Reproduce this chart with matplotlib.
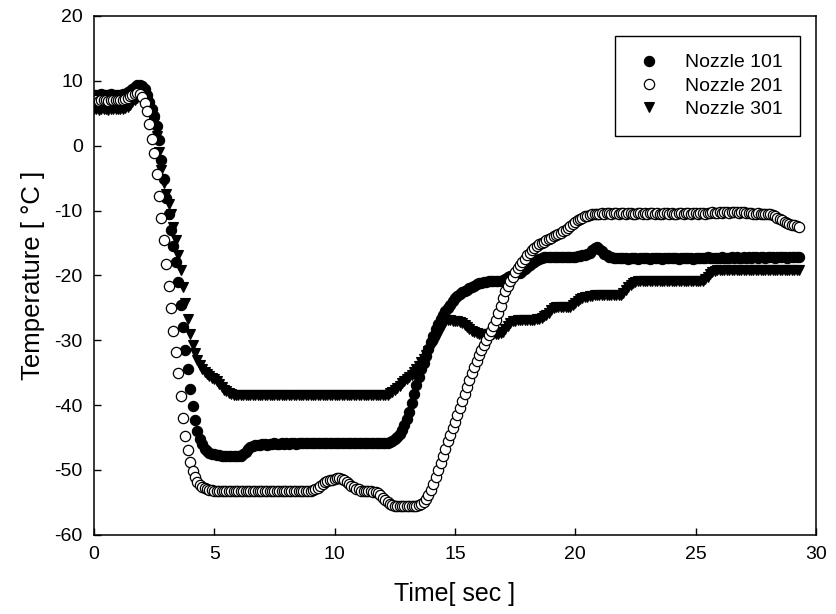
import numpy as np
import matplotlib
matplotlib.use("Agg")
import matplotlib.pyplot as plt

plt.rcParams["font.family"] = ["Liberation Sans", "DejaVu Sans"]
plt.rcParams["axes.unicode_minus"] = False

# sampling interval of the logger (s)
dt = 0.1

# Nozzle 101, one row per second
n101 = [
    7.8, 7.8, 7.8, 7.9, 7.8, 7.8, 7.8, 7.9, 7.8, 7.8,
    7.8, 7.8, 7.9, 8.0, 8.2, 8.5, 8.8, 9.1, 9.3, 9.4,
    9.2, 8.7, 7.8, 6.7, 5.6, 4.5, 3.0, 0.8, -2.2, -5.2,
    -8.0, -10.5, -13.0, -15.5, -18.0, -21.0, -24.5, -28.0, -31.5, -34.5,
    -37.5, -40.2, -42.3, -44.0, -45.2, -46.0, -46.7, -47.1, -47.4, -47.5,
    -47.6, -47.7, -47.7, -47.8, -47.8, -47.9, -47.9, -47.9, -47.8, -47.9,
    -47.9, -47.8, -47.6, -47.2, -46.8, -46.5, -46.3, -46.2, -46.1, -46.1,
    -46.0, -46.0, -46.1, -46.0, -46.0, -45.9, -46.0, -46.0, -45.9, -46.0,
    -45.9, -46.0, -45.9, -45.9, -46.0, -45.9, -45.9, -45.8, -45.9, -45.9,
    -45.9, -45.8, -45.9, -45.9, -45.8, -45.9, -45.8, -45.9, -45.9, -45.8,
    -45.9, -45.8, -45.9, -45.8, -45.8, -45.9, -45.8, -45.8, -45.9, -45.8,
    -45.8, -45.9, -45.8, -45.8, -45.9, -45.8, -45.8, -45.9, -45.8, -45.8,
    -45.8, -45.8, -45.8, -45.7, -45.5, -45.2, -44.9, -44.5, -43.9, -43.1,
    -42.2, -41.0, -39.7, -38.3, -36.9, -35.6, -34.5, -33.5, -32.5, -31.4,
    -30.3, -29.3, -28.3, -27.5, -26.8, -26.1, -25.5, -25.0, -24.5, -24.0,
    -23.5, -23.2, -22.9, -22.6, -22.4, -22.2, -22.0, -21.8, -21.6, -21.4,
    -21.2, -21.1, -21.0, -21.0, -20.9, -20.9, -20.9, -20.9, -20.9, -20.8,
    -20.7, -20.5, -20.3, -20.1, -20.0, -19.8, -19.7, -19.6, -19.3, -19.0,
    -18.7, -18.4, -18.1, -17.9, -17.7, -17.5, -17.3, -17.2, -17.1, -17.1,
    -17.1, -17.2, -17.1, -17.1, -17.2, -17.1, -17.1, -17.1, -17.2, -17.1,
    -17.1, -17.0, -17.0, -16.9, -16.8, -16.7, -16.5, -16.1, -15.8, -15.7,
    -15.9, -16.3, -16.7, -16.9, -17.1, -17.2, -17.3, -17.3, -17.3, -17.3,
    -17.3, -17.3, -17.4, -17.3, -17.3, -17.3, -17.4, -17.3, -17.3, -17.3,
    -17.3, -17.4, -17.3, -17.3, -17.3, -17.3, -17.4, -17.3, -17.3, -17.3,
    -17.3, -17.3, -17.3, -17.4, -17.3, -17.3, -17.3, -17.3, -17.3, -17.4,
    -17.3, -17.3, -17.3, -17.3, -17.3, -17.2, -17.3, -17.3, -17.3, -17.3,
    -17.3, -17.2, -17.3, -17.3, -17.3, -17.2, -17.3, -17.2, -17.3, -17.3,
    -17.2, -17.3, -17.2, -17.3, -17.2, -17.2, -17.3, -17.2, -17.2, -17.3,
    -17.2, -17.2, -17.2, -17.3, -17.2, -17.2, -17.2, -17.2, -17.3, -17.2,
    -17.2, -17.2, -17.2, -17.2,
]

# Nozzle 201
n201 = [
    7.0, 7.0, 6.9, 7.0, 7.0, 7.0, 6.9, 7.0, 7.0, 7.0,
    7.0, 7.0, 7.1, 7.2, 7.4, 7.6, 7.8, 8.0, 8.1, 8.0,
    7.5, 6.6, 5.3, 3.4, 1.0, -1.2, -4.4, -7.7, -11.1, -14.6,
    -18.2, -21.6, -25.0, -28.5, -31.8, -35.1, -38.6, -42.0, -44.7, -46.9,
    -48.7, -50.1, -51.1, -51.8, -52.3, -52.6, -52.8, -53.0, -53.1, -53.1,
    -53.2, -53.2, -53.3, -53.3, -53.2, -53.3, -53.3, -53.2, -53.3, -53.3,
    -53.3, -53.2, -53.3, -53.3, -53.3, -53.2, -53.3, -53.3, -53.2, -53.3,
    -53.3, -53.2, -53.3, -53.2, -53.3, -53.3, -53.2, -53.3, -53.2, -53.2,
    -53.3, -53.2, -53.2, -53.3, -53.2, -53.2, -53.3, -53.2, -53.2, -53.2,
    -53.2, -53.1, -53.0, -52.8, -52.5, -52.2, -51.9, -51.7, -51.6, -51.5,
    -51.4, -51.3, -51.3, -51.4, -51.6, -51.9, -52.2, -52.5, -52.7, -52.9,
    -53.0, -53.2, -53.3, -53.3, -53.3, -53.3, -53.4, -53.4, -53.6, -53.9,
    -54.3, -54.7, -55.0, -55.2, -55.4, -55.5, -55.5, -55.5, -55.5, -55.5,
    -55.5, -55.5, -55.5, -55.5, -55.5, -55.4, -55.3, -55.0, -54.5, -53.9,
    -53.1, -52.2, -51.1, -50.0, -48.9, -47.8, -46.7, -45.6, -44.6, -43.6,
    -42.6, -41.6, -40.5, -39.4, -38.3, -37.2, -36.1, -35.1, -34.1, -33.2,
    -32.3, -31.5, -30.7, -29.9, -29.2, -28.5, -27.8, -26.9, -25.8, -24.7,
    -23.5, -22.4, -21.6, -20.9, -20.2, -19.5, -18.9, -18.4, -17.9, -17.4,
    -16.9, -16.5, -16.1, -15.8, -15.5, -15.2, -15.0, -14.8, -14.6, -14.4,
    -14.2, -14.0, -13.8, -13.6, -13.4, -13.2, -13.0, -12.7, -12.4, -12.1,
    -11.8, -11.5, -11.3, -11.1, -10.9, -10.8, -10.7, -10.6, -10.5, -10.5,
    -10.5, -10.4, -10.5, -10.4, -10.4, -10.5, -10.4, -10.4, -10.5, -10.4,
    -10.4, -10.5, -10.4, -10.4, -10.5, -10.5, -10.4, -10.4, -10.5, -10.4,
    -10.5, -10.4, -10.4, -10.5, -10.4, -10.5, -10.5, -10.4, -10.4, -10.5,
    -10.4, -10.5, -10.5, -10.4, -10.4, -10.5, -10.4, -10.4, -10.5, -10.4,
    -10.4, -10.5, -10.4, -10.4, -10.5, -10.4, -10.4, -10.3, -10.4, -10.4,
    -10.3, -10.4, -10.3, -10.3, -10.4, -10.3, -10.3, -10.3, -10.4, -10.3,
    -10.3, -10.4, -10.4, -10.4, -10.5, -10.5, -10.4, -10.5, -10.5, -10.6,
    -10.6, -10.6, -10.7, -10.9, -11.1, -11.3, -11.5, -11.7, -11.9, -12.1,
    -12.2, -12.3, -12.4, -12.5,
]

# Nozzle 301
n301 = [
    5.6, 5.6, 5.5, 5.6, 5.6, 5.6, 5.5, 5.6, 5.6, 5.6,
    5.6, 5.6, 5.7, 5.8, 6.0, 6.3, 6.7, 7.1, 7.4, 7.6,
    7.6, 7.3, 6.8, 6.0, 5.0, 3.5, 1.5, -1.0, -3.8, -5.8,
    -7.5, -9.0, -10.6, -12.5, -14.6, -16.8, -19.2, -21.8, -24.3, -26.8,
    -29.0, -30.8, -32.0, -33.0, -33.8, -34.4, -34.9, -35.2, -35.5, -35.8,
    -36.0, -36.3, -36.7, -37.2, -37.6, -37.9, -38.2, -38.3, -38.4, -38.5,
    -38.5, -38.5, -38.4, -38.5, -38.5, -38.5, -38.4, -38.5, -38.5, -38.5,
    -38.5, -38.4, -38.5, -38.5, -38.5, -38.4, -38.5, -38.5, -38.5, -38.4,
    -38.5, -38.5, -38.4, -38.5, -38.5, -38.5, -38.4, -38.5, -38.5, -38.4,
    -38.5, -38.5, -38.4, -38.5, -38.5, -38.4, -38.5, -38.5, -38.4, -38.5,
    -38.5, -38.4, -38.5, -38.5, -38.4, -38.5, -38.5, -38.4, -38.5, -38.5,
    -38.4, -38.5, -38.5, -38.4, -38.5, -38.5, -38.4, -38.5, -38.5, -38.4,
    -38.5, -38.4, -38.4, -38.2, -38.0, -37.7, -37.4, -37.0, -36.6, -36.3,
    -36.0, -35.6, -35.3, -34.9, -34.4, -33.9, -33.4, -32.9, -32.3, -31.7,
    -31.1, -30.5, -29.8, -29.0, -28.3, -27.6, -27.1, -26.9, -26.9, -27.0,
    -27.1, -27.1, -27.2, -27.4, -27.7, -28.0, -28.3, -28.6, -28.8, -28.9,
    -29.0, -29.0, -29.0, -29.1, -29.0, -29.0, -29.1, -29.0, -29.0, -28.9,
    -28.7, -28.3, -27.8, -27.4, -27.1, -27.0, -26.9, -26.9, -26.9, -26.9,
    -26.9, -26.9, -26.9, -26.9, -26.8, -26.7, -26.5, -26.3, -26.1, -25.8,
    -25.4, -25.1, -24.9, -24.8, -24.8, -24.8, -24.8, -24.8, -24.8, -24.6,
    -24.3, -24.0, -23.7, -23.5, -23.4, -23.3, -23.2, -23.2, -23.1, -23.1,
    -23.1, -23.0, -23.1, -23.0, -23.0, -23.1, -23.0, -23.0, -23.0, -23.0,
    -22.7, -22.2, -21.8, -21.5, -21.2, -21.0, -20.9, -20.9, -20.9, -20.8,
    -20.9, -20.8, -20.8, -20.9, -20.8, -20.8, -20.8, -20.9, -20.8, -20.8,
    -20.8, -20.8, -20.9, -20.8, -20.8, -20.8, -20.8, -20.8, -20.9, -20.8,
    -20.8, -20.8, -20.8, -20.8, -20.6, -20.2, -19.8, -19.5, -19.3, -19.2,
    -19.2, -19.2, -19.1, -19.2, -19.2, -19.2, -19.1, -19.2, -19.2, -19.1,
    -19.2, -19.2, -19.1, -19.2, -19.1, -19.2, -19.2, -19.1, -19.2, -19.1,
    -19.2, -19.1, -19.2, -19.1, -19.1, -19.2, -19.1, -19.1, -19.2, -19.1,
    -19.1, -19.2, -19.1, -19.1,
]

t101 = np.arange(len(n101)) * dt
t201 = np.arange(len(n201)) * dt
t301 = np.arange(len(n301)) * dt

fig = plt.figure(figsize=(8.36, 6.14), dpi=100)
ax = fig.add_axes([0.1124, 0.129, 0.8636, 0.845])

ms = 7.4
ax.plot(t101, n101, "o", ms=ms, mfc="black", mec="black", mew=0.8, label="Nozzle 101")
ax.plot(t301, n301, "v", ms=ms, mfc="black", mec="black", mew=0.8, label="Nozzle 301")
ax.plot(t201, n201, "o", ms=ms, mfc="white", mec="black", mew=0.9, label="Nozzle 201")

ax.set_xlim(0, 30)
ax.set_ylim(-60, 20)
ax.set_xticks([0, 5, 10, 15, 20, 25, 30])
ax.set_yticks([-60, -50, -40, -30, -20, -10, 0, 10, 20])
ax.tick_params(direction="in", length=5, width=1, labelsize=14, pad=8)
for s in ax.spines.values():
    s.set_linewidth(1.1)

ax.set_xlabel("Time[ sec ]", fontsize=18, labelpad=14)
ax.set_ylabel("Temperature [ °C ]", fontsize=18.5, labelpad=7)

h, l = ax.get_legend_handles_labels()
order = [0, 2, 1]
leg = ax.legend([h[i] for i in order], [l[i] for i in order],
                loc="upper right", bbox_to_anchor=(0.978, 0.961),
                borderaxespad=0, fontsize=14, fancybox=False,
                edgecolor="black", framealpha=1, handletextpad=1.0,
                borderpad=0.9, labelspacing=0.3, handlelength=1.7)
leg.get_frame().set_linewidth(1.0)

fig.savefig("out.png", dpi=100)
